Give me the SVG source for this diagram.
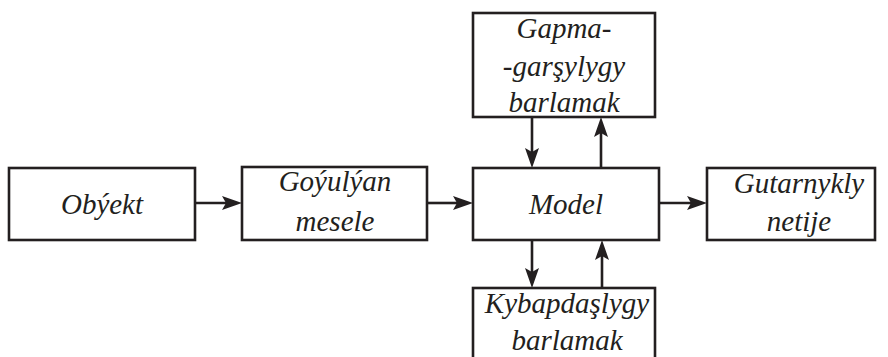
<svg xmlns="http://www.w3.org/2000/svg" width="888" height="357" viewBox="0 0 888 357">
<defs>
<path id="ah" d="M0,0 L-20,-7 L-16,0 L-20,7 Z" fill="#231f20"/>
</defs>
<rect width="888" height="357" fill="#fff"/>
<g id="connectors">
<g stroke="#231f20" stroke-width="2.6" fill="none">
<line x1="195" y1="203" x2="228" y2="203"/>
<line x1="427" y1="203" x2="459" y2="203"/>
<line x1="659" y1="203" x2="693" y2="203"/>
<line x1="532" y1="117" x2="532" y2="154"/>
<line x1="601" y1="168" x2="601" y2="131"/>
<line x1="532" y1="240" x2="532" y2="274"/>
<line x1="602" y1="288" x2="602" y2="254"/>
</g>
<use href="#ah" transform="translate(242,203)"/>
<use href="#ah" transform="translate(473,203)"/>
<use href="#ah" transform="translate(707,203)"/>
<use href="#ah" transform="translate(532,168) rotate(90)"/>
<use href="#ah" transform="translate(601,117) rotate(-90)"/>
<use href="#ah" transform="translate(532,288) rotate(90)"/>
<use href="#ah" transform="translate(602,240) rotate(-90)"/>
</g>
<g id="obyekt">
<rect x="9" y="168" width="186" height="72" fill="#fff" stroke="#231f20" stroke-width="2.6"/>
<text x="102" y="214" font-family="Times New Roman, Liberation Serif, serif" font-style="italic" font-size="29" text-anchor="middle" fill="#231f20">Obýekt</text>
</g>
<g id="goyulyan">
<rect x="242" y="167" width="185" height="73" fill="#fff" stroke="#231f20" stroke-width="2.6"/>
<text x="335" y="191" font-family="Times New Roman, Liberation Serif, serif" font-style="italic" font-size="29" text-anchor="middle" fill="#231f20">Goýulýan</text>
<text x="335" y="231" font-family="Times New Roman, Liberation Serif, serif" font-style="italic" font-size="29" text-anchor="middle" fill="#231f20">mesele</text>
</g>
<g id="model">
<rect x="473" y="168" width="186" height="72" fill="#fff" stroke="#231f20" stroke-width="2.6"/>
<text x="566" y="214" font-family="Times New Roman, Liberation Serif, serif" font-style="italic" font-size="29" text-anchor="middle" fill="#231f20">Model</text>
</g>
<g id="gutarnykly">
<rect x="707" y="168" width="168" height="72" fill="#fff" stroke="#231f20" stroke-width="2.6"/>
<text x="799" y="193" font-family="Times New Roman, Liberation Serif, serif" font-style="italic" font-size="29" text-anchor="middle" fill="#231f20">Gutarnykly</text>
<text x="799" y="231" font-family="Times New Roman, Liberation Serif, serif" font-style="italic" font-size="29" text-anchor="middle" fill="#231f20">netije</text>
</g>
<g id="gapma">
<rect x="473" y="13" width="182" height="104" fill="#fff" stroke="#231f20" stroke-width="2.6"/>
<text x="564" y="38" font-family="Times New Roman, Liberation Serif, serif" font-style="italic" font-size="29" text-anchor="middle" fill="#231f20">Gapma-</text>
<text x="564" y="76" font-family="Times New Roman, Liberation Serif, serif" font-style="italic" font-size="29" text-anchor="middle" fill="#231f20">-garşylygy</text>
<text x="564" y="112" font-family="Times New Roman, Liberation Serif, serif" font-style="italic" font-size="29" text-anchor="middle" fill="#231f20">barlamak</text>
</g>
<g id="kybapdas">
<rect x="473" y="288" width="182" height="80" fill="#fff" stroke="#231f20" stroke-width="2.6"/>
<text x="567" y="313" font-family="Times New Roman, Liberation Serif, serif" font-style="italic" font-size="29" text-anchor="middle" fill="#231f20">Kybapdaşlygy</text>
<text x="567" y="350" font-family="Times New Roman, Liberation Serif, serif" font-style="italic" font-size="29" text-anchor="middle" fill="#231f20">barlamak</text>
</g>
</svg>
